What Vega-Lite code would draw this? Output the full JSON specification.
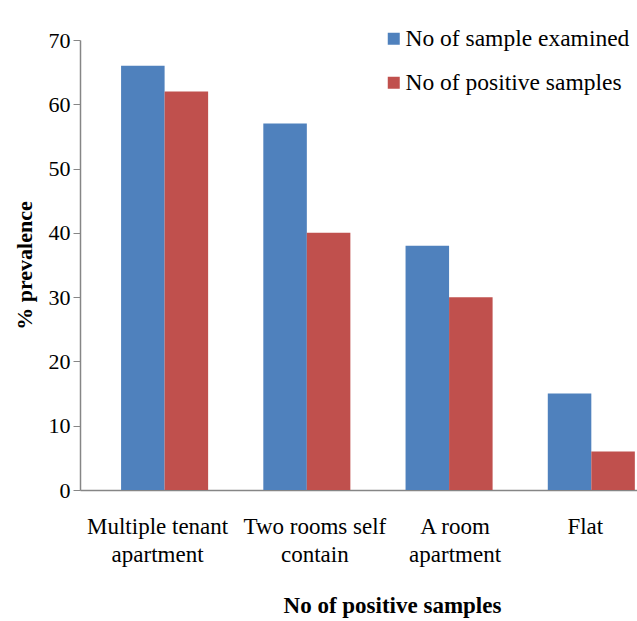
{
  "$schema": "https://vega.github.io/schema/vega-lite/v6.json",
  "autosize": {"type": "none"},
  "width": 557,
  "height": 450,
  "padding": {"left": 80, "top": 40, "right": 0, "bottom": 131},
  "background": "white",
  "config": {
    "font": "Liberation Serif",
    "view": {"stroke": null}
  },
  "data": {
    "values": [
      {"category": "Multiple tenant apartment", "series": "No of sample examined", "value": 66},
      {"category": "Multiple tenant apartment", "series": "No of positive samples", "value": 62},
      {"category": "Two rooms self contain", "series": "No of sample examined", "value": 57},
      {"category": "Two rooms self contain", "series": "No of positive samples", "value": 40},
      {"category": "A room apartment", "series": "No of sample examined", "value": 38},
      {"category": "A room apartment", "series": "No of positive samples", "value": 30},
      {"category": "Flat", "series": "No of sample examined", "value": 15},
      {"category": "Flat", "series": "No of positive samples", "value": 6}
    ]
  },
  "mark": {"type": "bar"},
  "encoding": {
    "x": {
      "field": "category",
      "type": "nominal",
      "sort": ["Multiple tenant apartment", "Two rooms self contain", "A room apartment", "Flat"],
      "scale": {"paddingInner": 0.388, "paddingOuter": 0.152, "align": 0.95},
      "axis": {
        "title": "No of positive samples",
        "titleFont": "Liberation Serif",
        "titleFontSize": 23,
        "titleFontWeight": "bold",
        "titleColor": "black",
        "titleX": 312,
        "titleY": 122,
        "titleBaseline": "alphabetic",
        "labelAngle": 0,
        "labelFont": "Liberation Serif",
        "labelFontSize": 23,
        "labelColor": "black",
        "labelBaseline": "top",
        "labelPadding": 25,
        "labelLineHeight": 28,
        "labelLimit": 300,
        "labelOffset": {
          "condition": [
            {"test": "datum.value == 'Multiple tenant apartment'", "value": -7},
            {"test": "datum.value == 'Two rooms self contain'", "value": 8},
            {"test": "datum.value == 'A room apartment'", "value": 6}
          ],
          "value": -6
        },
        "labelExpr": "datum.label == 'Multiple tenant apartment' ? ['Multiple tenant', 'apartment'] : datum.label == 'Two rooms self contain' ? ['Two rooms self', 'contain'] : datum.label == 'A room apartment' ? ['A room', 'apartment'] : datum.label",
        "ticks": false,
        "domainColor": "#868686",
        "domainWidth": 1.5
      }
    },
    "xOffset": {
      "field": "series",
      "type": "nominal",
      "sort": ["No of sample examined", "No of positive samples"]
    },
    "y": {
      "field": "value",
      "type": "quantitative",
      "scale": {"domain": [0, 70], "nice": false},
      "axis": {
        "title": "% prevalence",
        "titleFont": "Liberation Serif",
        "titleFontSize": 22,
        "titleFontWeight": "bold",
        "titleColor": "black",
        "titleX": -49,
        "titleY": 225,
        "titleAngle": -90,
        "titleBaseline": "alphabetic",
        "values": [0, 10, 20, 30, 40, 50, 60, 70],
        "labelFont": "Liberation Serif",
        "labelFontSize": 22,
        "labelColor": "black",
        "labelPadding": 3,
        "tickSize": 7,
        "tickColor": "#868686",
        "domainColor": "#868686",
        "domainWidth": 1.5,
        "grid": false
      }
    },
    "color": {
      "field": "series",
      "type": "nominal",
      "sort": ["No of sample examined", "No of positive samples"],
      "scale": {
        "domain": ["No of sample examined", "No of positive samples"],
        "range": ["#4F81BD", "#C0504D"]
      },
      "legend": {
        "title": null,
        "orient": "none",
        "legendX": 302,
        "legendY": -13,
        "padding": 0,
        "symbolType": "square",
        "symbolSize": 144,
        "symbolStrokeWidth": 0,
        "labelFont": "Liberation Serif",
        "labelFontSize": 23.5,
        "labelColor": "black",
        "labelOffset": 0,
        "labelLimit": 300,
        "rowPadding": 19
      }
    }
  }
}
